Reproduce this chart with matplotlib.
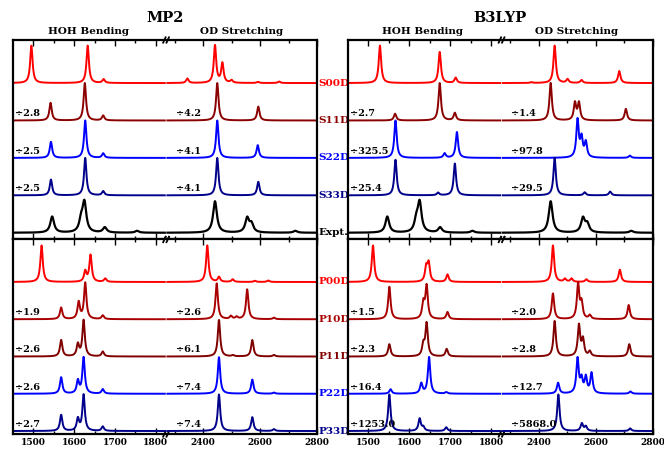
import numpy as np
import matplotlib
matplotlib.use('Agg')
import matplotlib.pyplot as plt
from matplotlib.ticker import FixedLocator, NullFormatter

plt.rcParams['font.family'] = 'DejaVu Serif'
plt.rcParams['font.weight'] = 'bold'

# ---- peak lists (position in cm^-1, displayed height in trace-spacing units) ----
# MP2, single-molecule / surface rows
mp2_s00d_hoh = [(1495, 1.00), (1633, 1.00), (1672, 0.10)]
mp2_s00d_od = [(2345, 0.12), (2442, 1.00), (2468, 0.52), (2500, 0.07), (2593, 0.03), (2667, 0.04)]
mp2_s11d_hoh = [(1542, 0.47), (1626, 1.00), (1671, 0.13)]
mp2_s11d_od = [(2450, 1.00), (2594, 0.37)]
mp2_s22d_hoh = [(1543, 0.43), (1627, 1.00), (1671, 0.12)]
mp2_s22d_od = [(2450, 1.00), (2592, 0.34)]
mp2_s33d_hoh = [(1543, 0.42), (1627, 1.00), (1671, 0.11)]
mp2_s33d_od = [(2450, 1.00), (2594, 0.36)]
expt_hoh = [(1546, 0.43), (1617, 0.30), (1625, 0.78), (1675, 0.14), (1754, 0.05)]
expt_od = [(2442, 0.84), (2555, 0.38), (2570, 0.22), (2724, 0.05)]

# B3LYP, surface rows
b3_s00d_hoh = [(1528, 1.00), (1674, 0.83), (1713, 0.14)]
b3_s00d_od = [(2375, 0.02), (2456, 1.00), (2501, 0.10), (2550, 0.08), (2682, 0.32)]
b3_s11d_hoh = [(1565, 0.18), (1674, 1.00), (1711, 0.20)]
b3_s11d_od = [(2442, 1.00), (2527, 0.46), (2541, 0.46), (2705, 0.31)]
b3_s22d_hoh = [(1566, 1.00), (1686, 0.12), (1716, 0.69)]
b3_s22d_od = [(2536, 1.00), (2550, 0.50), (2565, 0.40), (2719, 0.06)]
b3_s33d_hoh = [(1566, 0.95), (1670, 0.07), (1711, 0.85)]
b3_s33d_od = [(2456, 1.00), (2561, 0.08), (2650, 0.10)]

# MP2, periodic rows
mp2_p00d_hoh = [(1520, 0.98), (1627, 0.28), (1640, 0.72), (1676, 0.09)]
mp2_p00d_od = [(2415, 0.98), (2456, 0.13), (2504, 0.07), (2582, 0.03), (2629, 0.04)]
mp2_p10d_hoh = [(1568, 0.31), (1611, 0.45), (1627, 0.97), (1670, 0.10)]
mp2_p10d_od = [(2448, 0.96), (2498, 0.08), (2518, 0.06), (2555, 0.80), (2649, 0.04)]
mp2_p11d_hoh = [(1568, 0.44), (1609, 0.32), (1623, 0.97), (1670, 0.13)]
mp2_p11d_od = [(2456, 0.98), (2505, 0.03), (2573, 0.44), (2649, 0.04)]
mp2_p22d_hoh = [(1568, 0.44), (1609, 0.34), (1623, 0.97), (1670, 0.12)]
mp2_p22d_od = [(2456, 0.98), (2573, 0.38), (2649, 0.03)]
mp2_p33d_hoh = [(1568, 0.43), (1609, 0.32), (1623, 0.97), (1670, 0.12)]
mp2_p33d_od = [(2456, 0.98), (2573, 0.37), (2649, 0.05)]

# B3LYP, periodic rows
b3_p00d_hoh = [(1511, 0.98), (1641, 0.38), (1647, 0.48), (1693, 0.20)]
b3_p00d_od = [(2450, 0.98), (2492, 0.08), (2515, 0.09), (2567, 0.07), (2684, 0.33)]
b3_p10d_hoh = [(1551, 0.87), (1634, 0.42), (1642, 0.88), (1693, 0.19)]
b3_p10d_od = [(2450, 0.69), (2538, 0.93), (2550, 0.42), (2579, 0.10), (2715, 0.38)]
b3_p11d_hoh = [(1551, 0.33), (1634, 0.30), (1642, 0.88), (1691, 0.20)]
b3_p11d_od = [(2456, 0.95), (2541, 0.83), (2555, 0.44), (2579, 0.13), (2717, 0.33)]
b3_p22d_hoh = [(1554, 0.12), (1629, 0.27), (1648, 0.98), (1690, 0.04)]
b3_p22d_od = [(2468, 0.29), (2536, 0.93), (2550, 0.36), (2565, 0.42), (2585, 0.54), (2721, 0.06)]
b3_p33d_hoh = [(1551, 0.98), (1625, 0.33), (1634, 0.10), (1690, 0.10)]
b3_p33d_od = [(2469, 0.98), (2551, 0.20), (2565, 0.12), (2720, 0.07)]

# row names, colours and scale divisors (None = unscaled)
top_names = ['S00D', 'S11D', 'S22D', 'S33D', 'Expt.']
top_colors = ['#ff0000', '#8b0000', '#0000ff', '#00008b', '#000000']
bot_names = ['P00D', 'P10D', 'P11D', 'P22D', 'P33D']
bot_colors = ['#ff0000', '#a80000', '#800000', '#0000ff', '#00008b']

mp2_top_div_hoh = [None, 2.8, 2.5, 2.5, None]
mp2_top_div_od = [None, 4.2, 4.1, 4.1, None]
b3_top_div_hoh = [None, 2.7, 325.5, 25.4, None]
b3_top_div_od = [None, 1.4, 97.8, 29.5, None]
mp2_bot_div_hoh = [None, 1.9, 2.6, 2.6, 2.7]
mp2_bot_div_od = [None, 2.6, 6.1, 7.4, 7.4]
b3_bot_div_hoh = [None, 1.5, 2.3, 16.4, 1253.0]
b3_bot_div_od = [None, 2.0, 2.8, 12.7, 5868.0]

# ---- broken wavenumber axis: HOH window | OD window ----
BREAK_X = [1450, 1822, 2275, 2800]
BREAK_U = [0.0, 151.8, 154.4, 304.0]
SLOPE_L = (BREAK_U[1] - BREAK_U[0]) / (BREAK_X[1] - BREAK_X[0])
SLOPE_R = (BREAK_U[3] - BREAK_U[2]) / (BREAK_X[3] - BREAK_X[2])


def fwd(x):
    x = np.asarray(x, dtype=float)
    u = np.interp(x, BREAK_X, BREAK_U)
    u = np.where(x < BREAK_X[0], BREAK_U[0] + (x - BREAK_X[0]) * SLOPE_L, u)
    u = np.where(x > BREAK_X[-1], BREAK_U[-1] + (x - BREAK_X[-1]) * SLOPE_R, u)
    return u


def inv(u):
    u = np.asarray(u, dtype=float)
    x = np.interp(u, BREAK_U, BREAK_X)
    x = np.where(u < BREAK_U[0], BREAK_X[0] + (u - BREAK_U[0]) / SLOPE_L, x)
    x = np.where(u > BREAK_U[-1], BREAK_X[-1] + (u - BREAK_U[-1]) / SLOPE_R, x)
    return x


HOH_GRID = np.linspace(BREAK_X[0], BREAK_X[1], 1500)
OD_GRID = np.linspace(BREAK_X[2], BREAK_X[3], 1500)


def broaden(grid, peaks, hwhm):
    y = np.zeros_like(grid)
    for pos, h in peaks:
        y += h * hwhm ** 2 / ((grid - pos) ** 2 + hwhm ** 2)
    return y


def break_marks(ax):
    # two short slashes across the top and bottom spines at the axis break
    w_px = ax.bbox.width
    h_px = ax.bbox.height
    dx, dy = 1.6 / w_px, 3.5 / h_px
    for yy in (0.0, 1.0):
        for xc in (0.498, 0.509):
            ax.plot([xc - dx, xc + dx], [yy - dy, yy + dy], color='black', lw=1.3,
                    transform=ax.transAxes, clip_on=False, solid_capstyle='butt')


def setup_axis(ax, ylim, labels):
    ax.set_xscale('function', functions=(fwd, inv))
    ax.set_xlim(BREAK_X[0], BREAK_X[-1])
    ax.set_ylim(*ylim)
    ax.xaxis.set_major_locator(FixedLocator([1500, 1600, 1700, 1800, 2400, 2600, 2800]))
    ax.xaxis.set_minor_locator(FixedLocator([1550, 1650, 1750, 2300, 2500, 2700]))
    ax.xaxis.set_minor_formatter(NullFormatter())
    if not labels:
        ax.xaxis.set_major_formatter(NullFormatter())
    ax.set_yticks([])
    ax.tick_params(axis='x', which='both', direction='in', top=True, bottom=True,
                   width=1.0, labelsize=6.5, pad=3)
    ax.tick_params(axis='x', which='major', length=4)
    ax.tick_params(axis='x', which='minor', length=2)
    for sp in ax.spines.values():
        sp.set_linewidth(1.6)
    break_marks(ax)


def draw_panel(ax, hoh_rows, od_rows, colors, div_hoh, div_od, expt_row=None):
    n = len(hoh_rows)
    for i in range(n):
        base = n - 1 - i
        c = colors[i]
        hw_h, hw_o = (5.5, 8.0) if i == expt_row else (3.5, 5.0)
        lw = 1.6 if i == expt_row else 1.4
        ax.plot(HOH_GRID, base + broaden(HOH_GRID, hoh_rows[i], hw_h), color=c, lw=lw)
        ax.plot(OD_GRID, base + broaden(OD_GRID, od_rows[i], hw_o), color=c, lw=lw)
        if div_hoh[i] is not None:
            ax.text(1455, base + 0.06, '\u00f7' + f'{div_hoh[i]}', fontsize=7,
                    ha='left', va='bottom')
        if div_od[i] is not None:
            ax.text(2305, base + 0.06, '\u00f7' + f'{div_od[i]}', fontsize=7,
                    ha='left', va='bottom')


W, H = 664, 451
fig = plt.figure(figsize=(W / 100, H / 100), dpi=100)

xl, xr = 13, 348
wl, wr = 304, 305
top_y0, top_y1 = 40, 239.5
bot_y1 = 434
ax_tl = fig.add_axes([xl / W, 1 - top_y1 / H, wl / W, (top_y1 - top_y0) / H])
ax_tr = fig.add_axes([xr / W, 1 - top_y1 / H, wr / W, (top_y1 - top_y0) / H])
ax_bl = fig.add_axes([xl / W, 1 - bot_y1 / H, wl / W, (bot_y1 - top_y1) / H])
ax_br = fig.add_axes([xr / W, 1 - bot_y1 / H, wr / W, (bot_y1 - top_y1) / H])

top_lim = (-0.18, 5.15)
bot_lim = (-0.08, 5.14)
for ax in (ax_tl, ax_tr):
    setup_axis(ax, top_lim, labels=False)
for ax in (ax_bl, ax_br):
    setup_axis(ax, bot_lim, labels=True)

draw_panel(ax_tl,
           [mp2_s00d_hoh, mp2_s11d_hoh, mp2_s22d_hoh, mp2_s33d_hoh, expt_hoh],
           [mp2_s00d_od, mp2_s11d_od, mp2_s22d_od, mp2_s33d_od, expt_od],
           top_colors, mp2_top_div_hoh, mp2_top_div_od, expt_row=4)
draw_panel(ax_tr,
           [b3_s00d_hoh, b3_s11d_hoh, b3_s22d_hoh, b3_s33d_hoh, expt_hoh],
           [b3_s00d_od, b3_s11d_od, b3_s22d_od, b3_s33d_od, expt_od],
           top_colors, b3_top_div_hoh, b3_top_div_od, expt_row=4)
draw_panel(ax_bl,
           [mp2_p00d_hoh, mp2_p10d_hoh, mp2_p11d_hoh, mp2_p22d_hoh, mp2_p33d_hoh],
           [mp2_p00d_od, mp2_p10d_od, mp2_p11d_od, mp2_p22d_od, mp2_p33d_od],
           bot_colors, mp2_bot_div_hoh, mp2_bot_div_od)
draw_panel(ax_br,
           [b3_p00d_hoh, b3_p10d_hoh, b3_p11d_hoh, b3_p22d_hoh, b3_p33d_hoh],
           [b3_p00d_od, b3_p10d_od, b3_p11d_od, b3_p22d_od, b3_p33d_od],
           bot_colors, b3_bot_div_hoh, b3_bot_div_od)

# row names between the two columns
for ax, names, colors in ((ax_tl, top_names, top_colors), (ax_bl, bot_names, bot_colors)):
    for i, (name, c) in enumerate(zip(names, colors)):
        ax.text(1.006, len(names) - 1 - i, name, transform=ax.get_yaxis_transform(),
                color=c, fontsize=7.5, ha='left', va='center')

# column headers
fig.text(165 / W, 1 - 18 / H, 'MP2', ha='center', va='center', fontsize=10.5)
fig.text(500 / W, 1 - 18 / H, 'B3LYP', ha='center', va='center', fontsize=10.5)
for cx, txt in ((88, 'HOH Bending'), (242, 'OD Stretching'),
                (423, 'HOH Bending'), (577, 'OD Stretching')):
    fig.text(cx / W, 1 - 31 / H, txt, ha='center', va='center', fontsize=7.5)

fig.savefig('out.png', dpi=100)
